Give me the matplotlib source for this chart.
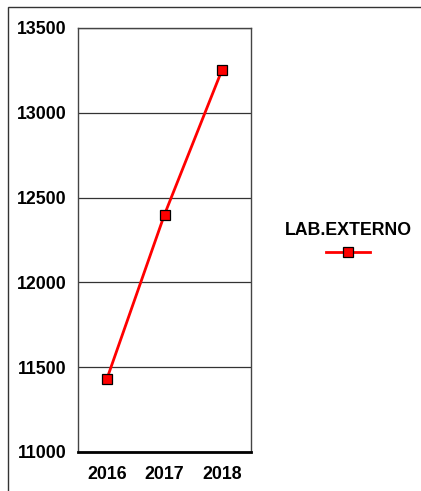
import matplotlib
matplotlib.use("Agg")
import matplotlib.pyplot as plt
from matplotlib.lines import Line2D
from matplotlib.patches import Rectangle

plt.rcParams['font.family'] = ['Liberation Sans', 'DejaVu Sans']

years = ["2016", "2017", "2018"]
lab_externo = [11430, 12400, 13255]
yticks = [11000, 11500, 12000, 12500, 13000, 13500]
series_name = "LAB.EXTERNO"

W, H = 421, 491
fig = plt.figure(figsize=(W / 100, H / 100), dpi=100)

# outer border
fig.add_artist(Rectangle((8 / W, -0.1), 1.2, (H - 7) / H + 0.1, transform=fig.transFigure,
                         fill=False, edgecolor='#333333', linewidth=1.0))

ax = fig.add_axes([78 / W, 1 - 452 / H, (251 - 78) / W, (452 - 28) / H])
x = list(range(len(years)))
ax.plot(x, lab_externo, color='red', linewidth=2, marker='s', markersize=6.5,
        markerfacecolor='red', markeredgecolor='black', markeredgewidth=0.9, zorder=3)
ax.set_xlim(-0.5, 2.5)
ax.set_ylim(11000, 13500)
ax.set_yticks(yticks)
ax.set_yticklabels([str(v) for v in yticks], fontsize=12.8, fontweight='bold')
ax.set_xticks(x)
ax.set_xticklabels(years, fontsize=12.8, fontweight='bold')
ax.tick_params(length=0)
ax.tick_params(axis='y', pad=8)
ax.tick_params(axis='x', pad=10)
ax.yaxis.grid(True, color='#333333', linewidth=0.9)
ax.set_axisbelow(True)
for s in ['left', 'right', 'top']:
    ax.spines[s].set_color('#444444')
    ax.spines[s].set_linewidth(1.0)
ax.spines['bottom'].set_color('black')
ax.spines['bottom'].set_linewidth(2.0)

handle = Line2D([], [], color='red', linewidth=2, marker='s', markersize=6.5,
                markerfacecolor='red', markeredgecolor='black', markeredgewidth=0.9)
leg = fig.legend([handle], [''], title=series_name, loc='center',
                 bbox_to_anchor=(348 / W, 1 - 241 / H), frameon=False,
                 title_fontproperties={'weight': 'bold', 'size': 12.8},
                 handlelength=3.2, handletextpad=0, borderpad=0, labelspacing=0.55)
fig.savefig("out.png", dpi=100)
